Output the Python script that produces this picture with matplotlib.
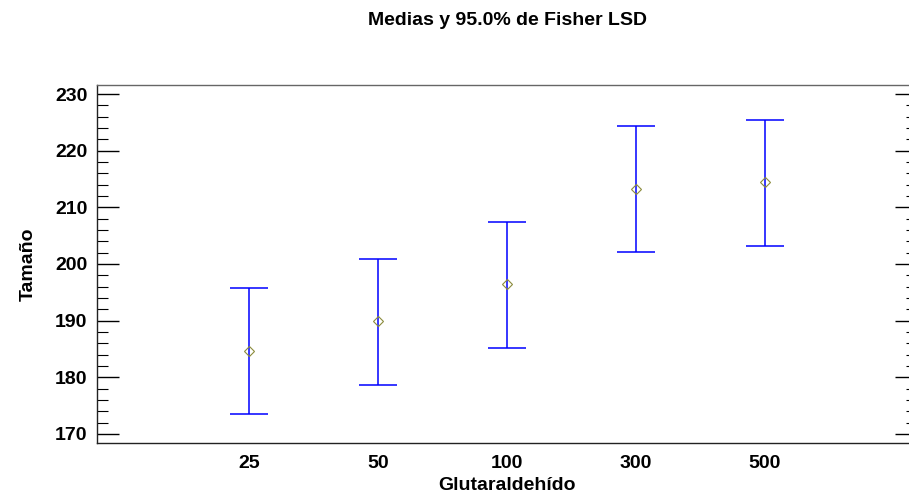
import numpy as np
import matplotlib.pyplot as plt
from matplotlib.ticker import MultipleLocator

plt.rcParams['font.family'] = ['Liberation Sans', 'DejaVu Sans']
plt.rcParams['font.weight'] = 'bold'

categories = ['25', '50', '100', '300', '500']
means = [184.6, 189.9, 196.4, 213.3, 214.4]
lower = [173.6, 178.7, 185.2, 202.1, 203.2]
upper = [195.7, 200.9, 207.4, 224.3, 225.5]

means = np.array(means)
err = np.array([means - np.array(lower), np.array(upper) - means])
x = np.arange(len(categories))

fig = plt.figure(figsize=(9.09, 4.92), dpi=100)
# right spine sits just past the image edge, as in the reference
ax = fig.add_axes([0.1067, 0.0996, 0.9021, 0.7277])

ax.errorbar(x, means, yerr=err, fmt='none', ecolor='#0000ff', elinewidth=1.1,
            capsize=13.5, capthick=1.1)
ax.plot(x, means, linestyle='none', marker='D', markersize=5,
        markerfacecolor='none', markeredgecolor='#8c8c3c', markeredgewidth=0.8)

ax.set_xlim(-1.18, 5.18)
ax.set_ylim(168.4, 231.6)
ax.set_xticks(x)
ax.set_xticklabels(categories)
ax.yaxis.set_major_locator(MultipleLocator(10))
ax.yaxis.set_minor_locator(MultipleLocator(2))

ax.tick_params(axis='x', length=0, pad=9, labelsize=14)
ax.tick_params(axis='y', which='major', direction='in', length=16, width=1,
               right=True, pad=7, labelsize=14)
ax.tick_params(axis='y', which='minor', direction='in', length=8, width=0.8,
               right=True)

for s in ax.spines.values():
    s.set_color('#222222')
    s.set_linewidth(1)
ax.spines['top'].set_color('#666666')

ax.set_xlabel('Glutaraldehído', fontsize=14, fontweight='bold', labelpad=3)
ax.set_ylabel('Tamaño', fontsize=14, fontweight='bold', labelpad=13)
fig.text(0.558, 0.959, 'Medias y 95.0% de Fisher LSD', ha='center', va='center',
         fontsize=14, fontweight='bold')

fig.savefig('out.png', dpi=100)
